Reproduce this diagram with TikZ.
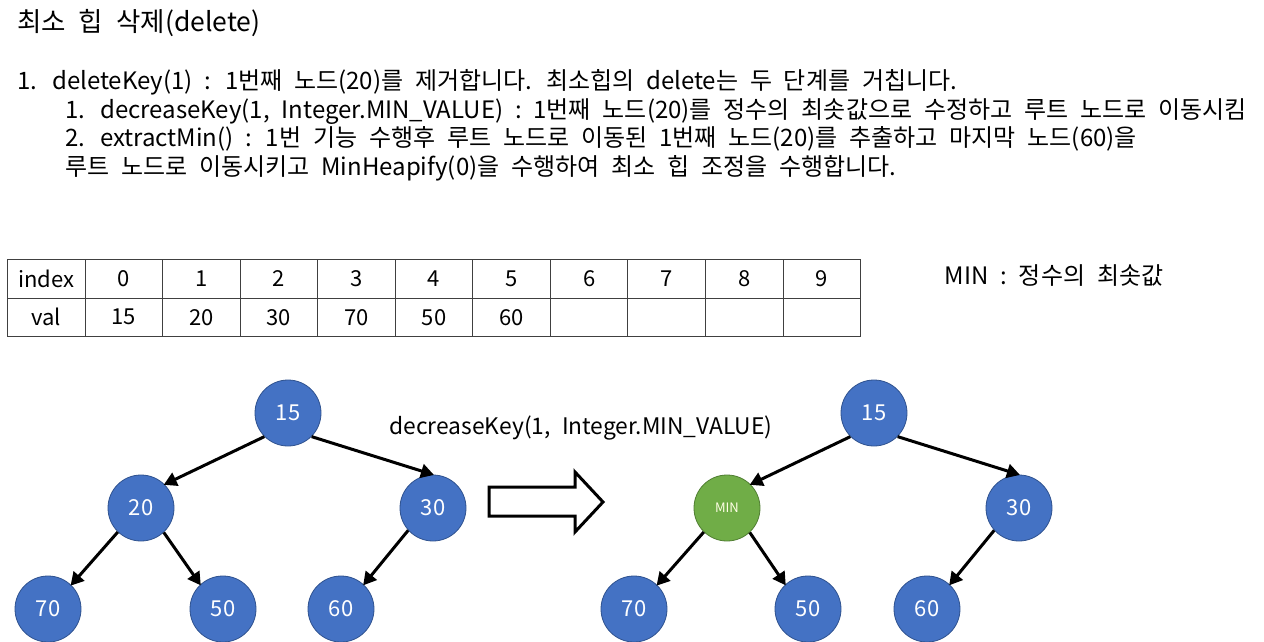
\documentclass[tikz,border=0pt]{standalone}
\usepackage{fontspec}
\setmainfont[WordSpace=2.2]{Noto Sans CJK KR}
\usetikzlibrary{arrows.meta}
\definecolor{nodeblue}{HTML}{4472C4}
\definecolor{nodeblueedge}{HTML}{2F528F}
\definecolor{nodegreen}{HTML}{70AD47}
\definecolor{nodegreenedge}{HTML}{507E32}
\definecolor{gridline}{HTML}{404040}
\newcommand{\txtsize}{\fontsize{24}{28}\selectfont}
\newcommand{\titlesize}{\fontsize{26.5}{30}\selectfont}
\newcommand{\labelsize}{\fontsize{22.8}{27}\selectfont}
\newcommand{\numsize}{\fontsize{22}{26}\selectfont}
\begin{document}
\begin{tikzpicture}[x=1pt,y=-1pt,
  txt/.style={anchor=base west,inner sep=0pt,font=\txtsize},
  heap/.style={circle,minimum size=66pt,inner sep=0pt,fill=nodeblue,draw=nodeblueedge,line width=0.8pt,text=white,font=\numsize},
  minnode/.style={heap,fill=nodegreen,draw=nodegreenedge,font=\fontsize{13}{15}\selectfont,text=white!90!yellow},
  link/.style={line width=3pt,-{Triangle[length=13pt,width=14pt]},shorten >=-1pt},
  cell/.style={draw=gridline,line width=1pt,minimum width=77.55pt,minimum height=38.5pt,inner sep=0pt,anchor=north west,font=\numsize},
  bigarrow/.style={draw=black,line width=3pt,fill=white,line join=miter}
]
\useasboundingbox (0,0) rectangle (1264,642);

% text block
\node[txt,font=\titlesize] (title) at (17,32) {최소 힙 삭제(delete)};
\node[txt] (n1) at (17,89) {1.};
\node[txt] (l1) at (52,89) {deleteKey(1) : 1번째 노드(20)를 제거합니다. 최소힙의 delete는 두 단계를 거칩니다.};
\node[txt] (n11) at (65,118) {1.};
\node[txt] (l11) at (100,118) {decreaseKey(1, Integer.MIN\_VALUE) : 1번째 노드(20)를 정수의 최솟값으로 수정하고 루트 노드로 이동시킴};
\node[txt] (n12) at (65,146) {2.};
\node[txt] (l12) at (100,146) {extractMin() : 1번 기능 수행후 루트 노드로 이동된 1번째 노드(20)를 추출하고 마지막 노드(60)을};
\node[txt] (l13) at (65,175) {루트 노드로 이동시키고 MinHeapify(0)을 수행하여 최소 힙 조정을 수행합니다.};

% table
\foreach \a/\b [count=\k from 0] in {index/val,0/15,1/20,2/30,3/70,4/50,5/60,6/,7/,8/,9/}{
  \node[cell] (h\k) at ({7+\k*77.55},259) {\a};
  \node[cell] (v\k) at ({7+\k*77.55},297.5) {\b};
}
\node[anchor=center,font=\txtsize,inner sep=0pt] (legend) at (1054,276) {MIN : 정수의 최솟값};

% left tree
\node[heap] (a15) at (288,413) {15};
\node[heap] (a20) at (141,508) {20};
\node[heap] (a30) at (433,508) {30};
\node[heap] (a70) at (48,609) {70};
\node[heap] (a50) at (223,609) {50};
\node[heap] (a60) at (341,609) {60};
\draw[link] (a15.225) -- (a20.45);
\draw[link] (a15.-45) -- (a30.north);
\draw[link] (a20.226) -- (a70.46);
\draw[link] (a20.-47) -- (a50.133);
\draw[link] (a30.222) -- (a60.47);

% transition label and arrow
\node[anchor=center,font=\labelsize,inner sep=0pt] (op) at (581,428) {decreaseKey(1, Integer.MIN\_VALUE)};
\draw[bigarrow] (489,487) -- (575,487) -- (575,472) -- (603,502) -- (575,532) -- (575,516) -- (489,516) -- cycle;

% right tree
\node[heap] (b15) at (874,413) {15};
\node[minnode] (bmin) at (727,508) {MIN};
\node[heap] (b30) at (1019,508) {30};
\node[heap] (b70) at (634,609) {70};
\node[heap] (b50) at (808,609) {50};
\node[heap] (b60) at (927,609) {60};
\draw[link] (b15.225) -- (bmin.45);
\draw[link] (b15.-45) -- (b30.north);
\draw[link] (bmin.226) -- (b70.46);
\draw[link] (bmin.-47) -- (b50.133);
\draw[link] (b30.222) -- (b60.47);
\end{tikzpicture}
\end{document}
